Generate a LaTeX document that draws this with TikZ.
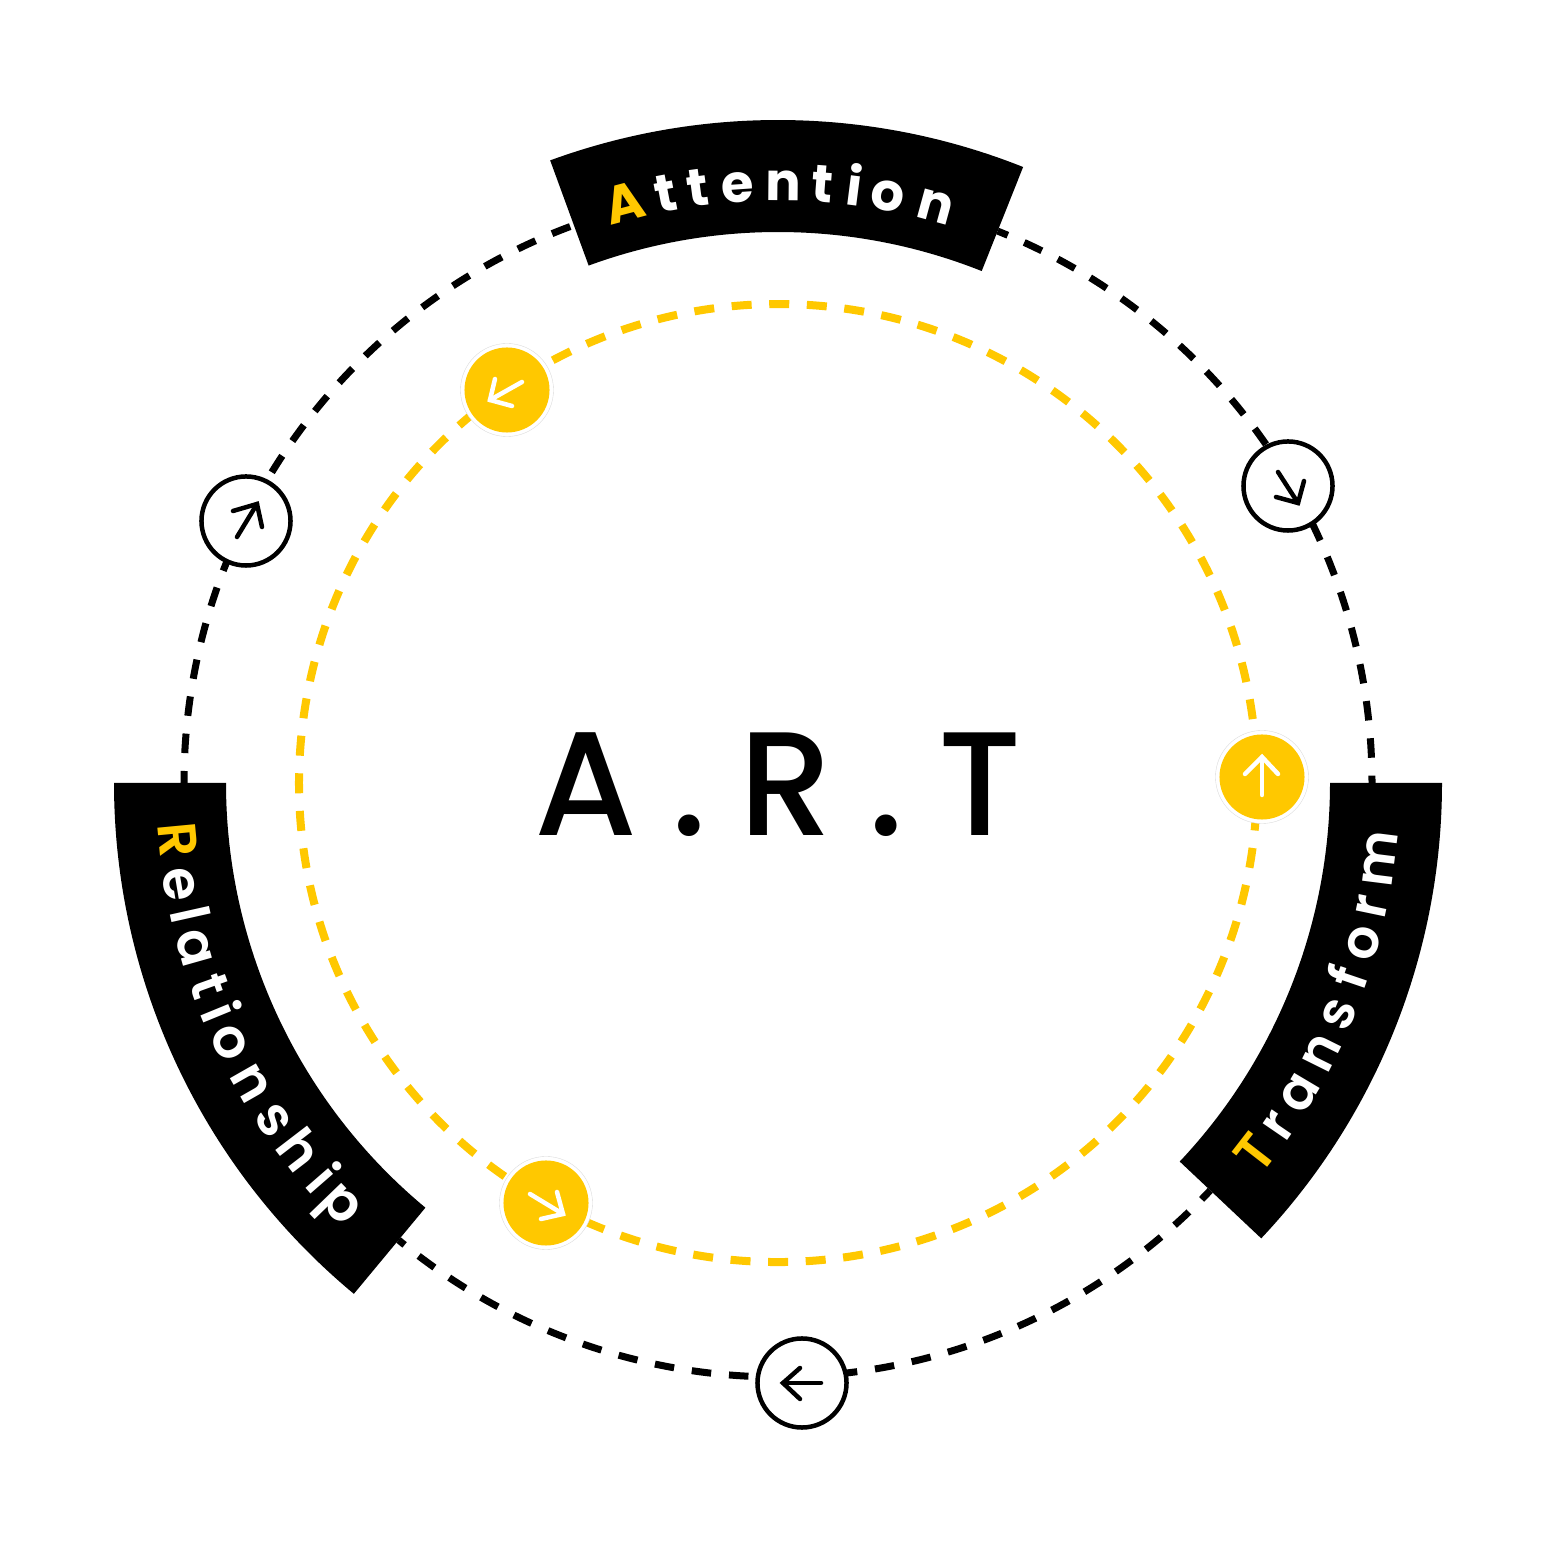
\documentclass[tikz,border=0pt]{standalone}
\usepackage{fontspec}
\setmainfont{Poppins}
\newfontfamily\popbd{Poppins Bold}
\newfontfamily\popsb{Poppins SemiBold}
\newfontfamily\popmd{Poppins Medium}
\definecolor{artyellow}{HTML}{FFC800}
\tikzset{
  banner/.style={fill=black},
  blackring/.style={draw=black,line width=0.07cm,dash pattern=on 0.195cm off 0.179cm},
  yellowring/.style={draw=artyellow,line width=0.08cm,dash pattern=on 0.20cm off 0.176cm},
  blackhub/.style={circle,draw=black,fill=white,line width=0.045cm,minimum size=0.89cm,inner sep=0pt},
  yellowhub/.style={circle,fill=artyellow,minimum size=0.85cm,inner sep=0pt},
  halo/.style={circle,fill=white,draw=black!15,line width=0.1pt,minimum size=0.93cm,inner sep=0pt},
  darrow/.style={draw=black,line width=0.045cm,line cap=round,line join=miter},
  warrow/.style={draw=white,line width=0.045cm,line cap=round,line join=miter},
  letter/.style={anchor=base,inner sep=0pt,text=white},
  lettertop/.style={letter,font=\popbd\fontsize{15pt}{15pt}\selectfont},
  letterright/.style={letter,font=\popsb\fontsize{15.2pt}{15.2pt}\selectfont},
  letterleft/.style={letter,font=\popsb\fontsize{15.4pt}{15.4pt}\selectfont},
}
\newcommand{\bannerarc}[2]{%
  \fill[banner] (#1:552) arc[start angle=#1,end angle=#2,radius=552]
     -- (#2:664) arc[start angle=#2,end angle=#1,radius=664] -- cycle;}
\newcommand{\ringseg}[4]{% kind, phase, start, end
  \ifnum#1=1
    \draw[blackring,dash phase=#2cm] (#3:594) arc[start angle=#3,end angle=#4,radius=594];
  \else
    \draw[yellowring,dash phase=#2cm] (#3:479) arc[start angle=#3,end angle=#4,radius=479];
  \fi}
\newcommand{\hubarrow}[6]{% style, node, tail, tip, barb, barb
  \draw[#1] ([shift={(#3)}]#2.center) -- ([shift={(#4)}]#2.center);
  \draw[#1] ([shift={(#5)}]#2.center) -- ([shift={(#4)}]#2.center) -- ([shift={(#6)}]#2.center);}
\begin{document}
\begin{tikzpicture}[x=0.01cm,y=0.01cm]
\useasboundingbox (0,0) rectangle (1563,1563);
\fill[white] (0,0) rectangle (1563,1563);
\begin{scope}[shift={(778,780)}]
  % rings
  \ringseg{2}{0.17}{0.7}{124.6}
  \ringseg{2}{0.356}{124.6}{241.1}
  \ringseg{2}{0.316}{241.1}{360.7}
  \ringseg{1}{0.1215}{0}{30.2}
  \ringseg{1}{0.085}{68.3}{30.2}
  \ringseg{1}{0.075}{180}{153.8}
  \ringseg{1}{0.1945}{153.8}{110.1}
  \ringseg{1}{0.1175}{230.3}{272.3}
  \ringseg{1}{0.07}{316.7}{272.3}
  % banners
  \fill[banner] (110.1:551) arc[start angle=110.1,end angle=68.3,radius=551]
     -- (68.3:663) arc[start angle=68.3,end angle=110.1,radius=663] -- cycle;
  \bannerarc{0}{-43.3}
  \bannerarc{180}{230.3}
  % letters
  \foreach \a/\c [count=\i] in {104.8/{\textcolor{artyellow}{A}},100.8/t,97.7/t,93.9/e,89.5/n,85.7/t,82.7/i,79.4/o,74.7/n}{
    \pgfmathsetmacro\rot{\a-90}
    \node[lettertop,rotate=\rot] (att\i) at (\a:582) {\c};
  }
  \foreach \a/\c [count=\i] in {-37.8/{\textcolor{artyellow}{T}},-34.4/r,-30.7/a,-26.4/n,-22.4/s,-18.8/f,-15.3/o,-11.8/r,-7.2/m}{
    \pgfmathsetmacro\rot{\a+90}
    \node[letterright,rotate=\rot] (tra\i) at (\a:622) {\c};
  }
  \foreach \a/\c [count=\i] in {185.4/{\textcolor{artyellow}{R}},189.6/e,192.6/l,195.8/a,199.7/t,202.3/i,205.3/o,209.7/n,213.8/s,217.5/h,221/i,224/p}{
    \pgfmathsetmacro\rot{\a+90}
    \node[letterleft,rotate=\rot] (rel\i) at (\a:622) {\c};
  }
  % hubs
  \node[blackhub] (hubA) at (510,297) {};
  \node[blackhub] (hubB) at (-532,262) {};
  \node[blackhub] (hubC) at (24,-600) {};
  \node[halo] (haloA) at (-271,393) {};
  \node[halo] (haloB) at (484,6) {};
  \node[halo] (haloC) at (-232,-420) {};
  \node[yellowhub] (yelA) at (-271,393) {};
  \node[yellowhub] (yelB) at (484,6) {};
  \node[yellowhub] (yelC) at (-232,-420) {};
  % arrows
  \hubarrow{darrow}{hubA}{-10,14}{10,-17}{16,5}{-12,-11}
  \hubarrow{darrow}{hubB}{-9,-16}{11,17}{-13,10}{16,-6}
  \hubarrow{darrow}{hubC}{19,0}{-19,0}{-2,15}{-2,-16}
  \hubarrow{warrow}{yelA}{15,8}{-17,-10}{-12,11}{5,-16}
  \hubarrow{warrow}{yelB}{0,-18}{0,20}{-17,3}{16,3}
  \hubarrow{warrow}{yelC}{-16,9}{17,-11}{11,11}{-5,-16}
\end{scope}
\node[anchor=base,inner sep=0pt,font=\popmd\fontsize{42pt}{42pt}\selectfont] (title) at (778,727.5)
  {A\hspace{0.34cm}.\hspace{0.33cm}R\hspace{0.355cm}.\hspace{0.34cm}T};
\end{tikzpicture}
\end{document}
